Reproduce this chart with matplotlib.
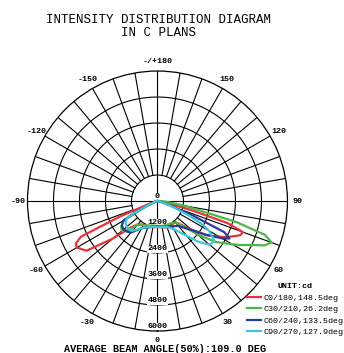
import numpy as np
import matplotlib
matplotlib.use("Agg")
import matplotlib.pyplot as plt

# --- DATA (intensity in cd vs gamma angle, per C plane half) ---
GAMMA = [0, 10, 20, 30, 40, 45, 50, 55, 60, 62.5, 65, 67.5, 70, 72.5, 75, 80, 85, 90]

C0   = [1200, 1230, 1300, 1280, 1270, 1550, 2050, 2750, 3300, 3600, 3850, 4130, 4200, 3400, 1600, 400, 100, 0]
C180 = [1200, 1230, 1260, 1260, 1400, 1700, 2700, 4000, 4300, 4250, 3900, 1900, 550, 200, 80, 30, 10, 0]
C30  = [1150, 1170, 1180, 1200, 1300, 1600, 2400, 3300, 4000, 4400, 4800, 5350, 5600, 5200, 3800, 1300, 400, 0]
C210 = [1150, 1150, 1200, 1300, 1450, 1900, 2150, 2050, 1800, 1000, 500, 250, 150, 80, 50, 20, 10, 0]
C60  = [1180, 1200, 1250, 1350, 1500, 1750, 2100, 2700, 3450, 3750, 3400, 1800, 800, 350, 150, 50, 20, 0]
C240 = [1180, 1200, 1300, 1450, 1900, 2000, 2050, 2000, 1850, 1200, 600, 300, 150, 80, 40, 20, 10, 0]
C90  = [1200, 1220, 1270, 1500, 2100, 2650, 3150, 3200, 2750, 2300, 1650, 1000, 600, 300, 150, 50, 20, 0]
C270 = [1200, 1210, 1280, 1450, 1800, 1850, 1850, 1800, 1650, 1200, 600, 300, 150, 80, 40, 20, 10, 0]

PLANES = [
    ("C0/180,148.5deg", C0, C180, "#e8323a"),
    ("C30/210,26.2deg", C30, C210, "#4cb848"),
    ("C60/240,133.5deg", C60, C240, "#2a3a9e"),
    ("C90/270,127.9deg", C90, C270, "#3ec6d6"),
]

RINGS = [1200, 2400, 3600, 4800, 6000]
RING_LABELS = ["1200", "2400", "3600", "4800", "6000"]
ANGLE_TICKS = [0, 30, 60, 90, 120, 150, 180, -150, -120, -90, -60, -30]
ANGLE_LABELS = ["0", "30", "60", "90", "120", "150", "-/+180", "-150", "-120", "-90", "-60", "-30"]

RMAX = 6000
MONO = "Liberation Mono"

fig = plt.figure(figsize=(3.44, 3.53), dpi=100)
ax = fig.add_axes([0.0799, 0.0623, 0.7558, 0.7365], projection="polar")
ax.set_theta_zero_location("S")
ax.set_theta_direction(1)
ax.set_ylim(0, RMAX)
ax.set_xticks([])
ax.set_yticks([])
ax.grid(False)
ax.spines["polar"].set_linewidth(0.9)
ax.spines["polar"].set_color("black")

# rings
circ = np.linspace(0, 2 * np.pi, 721)
for r in RINGS[:-1]:
    ax.plot(circ, np.full_like(circ, r), color="black", lw=0.8, zorder=1)

# spokes every 10 deg, main axes through the centre
for a in range(-170, 181, 10):
    th = np.deg2rad(a)
    r0 = 0 if a % 90 == 0 else RINGS[0]
    ax.plot([th, th], [r0, RMAX], color="black", lw=0.8, zorder=1)

# ring labels along the downward axis
for r, lab in zip([0] + RINGS, ["0"] + RING_LABELS):
    ax.annotate(lab, xy=(0, r), xytext=(0, 0.5), textcoords="offset points",
                ha="center", va="bottom", fontsize=6, family=MONO, fontweight="bold",
                bbox=dict(boxstyle="square,pad=0.05", fc="white", ec="none"), zorder=2)

# angle labels around the outside
for a, lab in zip(ANGLE_TICKS, ANGLE_LABELS):
    ax.text(np.deg2rad(a), RMAX * 1.075, lab, ha="center", va="center",
            fontsize=6, family=MONO, fontweight="bold", clip_on=False)

# intensity curves: left half (C180..) at negative angles, right half positive
g = np.array(GAMMA)
for name, right, left, col in PLANES:
    th = np.deg2rad(np.concatenate([-g[::-1], g[1:]]))
    rr = np.concatenate([np.array(left)[::-1], np.array(right)[1:]])
    ax.plot(th, rr, color=col, lw=1.6, label=name, zorder=3)

leg = fig.legend(loc="lower right", bbox_to_anchor=(1.0, 0.045), frameon=False,
                 title="UNIT:cd", prop={"family": MONO, "size": 6},
                 handlelength=1.7, handletextpad=0.3, labelspacing=0.45,
                 borderpad=0.1, borderaxespad=0.0)
leg.get_title().set_fontfamily(MONO)
leg.get_title().set_fontsize(6)
leg.get_title().set_fontweight("bold")

fig.text(158.5 / 344, 1 - 14 / 353, "INTENSITY DISTRIBUTION DIAGRAM\nIN C PLANS",
         ha="center", va="top", fontsize=9, family=MONO, linespacing=1.1)
fig.text(165 / 344, 1 - 349 / 353, "AVERAGE BEAM ANGLE(50%):109.0 DEG",
         ha="center", va="center", fontsize=7.3, family=MONO, fontweight="bold")

fig.savefig("out.png", dpi=100)
